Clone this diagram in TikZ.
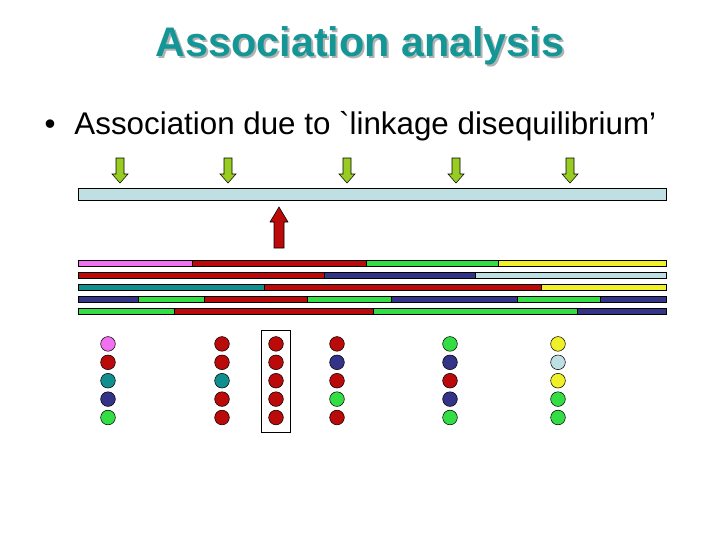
\documentclass[tikz,border=0pt]{standalone}
\usepackage{fontspec}
\setmainfont{Liberation Sans}
\definecolor{cblue}{HTML}{BEE0E2}
\definecolor{cred}{HTML}{BB0A0A}
\definecolor{cgreen}{HTML}{33DD44}
\definecolor{cnavy}{HTML}{333388}
\definecolor{cyel}{HTML}{F0F028}
\definecolor{cpink}{HTML}{F070F0}
\definecolor{cteal}{HTML}{118E8E}
\definecolor{carrow}{HTML}{99CC22}
\definecolor{ctitle}{HTML}{149696}
\tikzset{
  seg/.style={draw=black,thin},
  dot/.style={circle,draw=black,thin,minimum size=11,inner sep=0},
  marker/.style={draw=black,thin,fill=carrow},
}
\begin{document}
\begin{tikzpicture}[x=0.75pt,y=-0.75pt]
  \useasboundingbox (0,0) rectangle (720,540);

  % --- title ---
  \node[font=\fontsize{31}{36}\selectfont\bfseries, text=gray!60] (shadow) at (362,48) {Association analysis};
  \node[font=\fontsize{31}{36}\selectfont\bfseries, text=ctitle] (title) at (360,46) {Association analysis};
  \node[font=\fontsize{23.5}{28}\selectfont, anchor=west] (bullet) at (40,126) {•\hspace{0.6em}Association due to \textasciigrave linkage disequilibrium’};

  % --- markers and top chromosome ---
  \foreach \x/\n in {120/1,228/2,347/3,456/4,570/5} {
    \coordinate (m\n) at (\x,158);
    \draw[marker] (m\n) ++(-4,0) -- ++(8,0) -- ++(0,16) -- ++(4,0) -- ++(-8,9) -- ++(-8,-9) -- ++(4,0) -- cycle;
  }
  \draw[seg, fill=cblue] (78,188) rectangle (666,200);
  \coordinate (qtl) at (279,248);
  \draw[seg, fill=cred] (qtl) ++(-5,0) -- ++(10,0) -- ++(0,-26) -- ++(4,0) -- ++(-9,-15) -- ++(-9,15) -- ++(4,0) -- cycle;

  % --- haplotypes ---
  \foreach \y/\list in {
      260/{78/192/cpink,192/366/cred,366/498/cgreen,498/666/cyel},
      272/{78/324/cred,324/475/cnavy,475/666/cblue},
      284/{78/264/cteal,264/541/cred,541/666/cyel},
      296/{78/138/cnavy,138/204/cgreen,204/307/cred,307/391/cgreen,391/517/cnavy,517/600/cgreen,600/666/cnavy},
      308/{78/174/cgreen,174/373/cred,373/577/cgreen,577/666/cnavy}}
    \foreach \a/\b/\c in \list
      \draw[seg, fill=\c] (\a,\y) rectangle (\b,\y+6);

  % --- alleles ---
  \foreach \x/\n/\list in {
      108/1/{cpink,cred,cteal,cnavy,cgreen},
      222/2/{cred,cred,cteal,cred,cred},
      276/3/{cred,cred,cred,cred,cred},
      337/4/{cred,cnavy,cred,cgreen,cred},
      450/5/{cgreen,cnavy,cred,cnavy,cgreen},
      558/6/{cyel,cblue,cyel,cgreen,cgreen}}
    \foreach \c [count=\k] in \list
      \node[dot, fill=\c] (d\n-\k) at (\x,325.5+18.4*\k) {};
  \draw[thin] (261,330) rectangle (290,432);
\end{tikzpicture}
\end{document}
